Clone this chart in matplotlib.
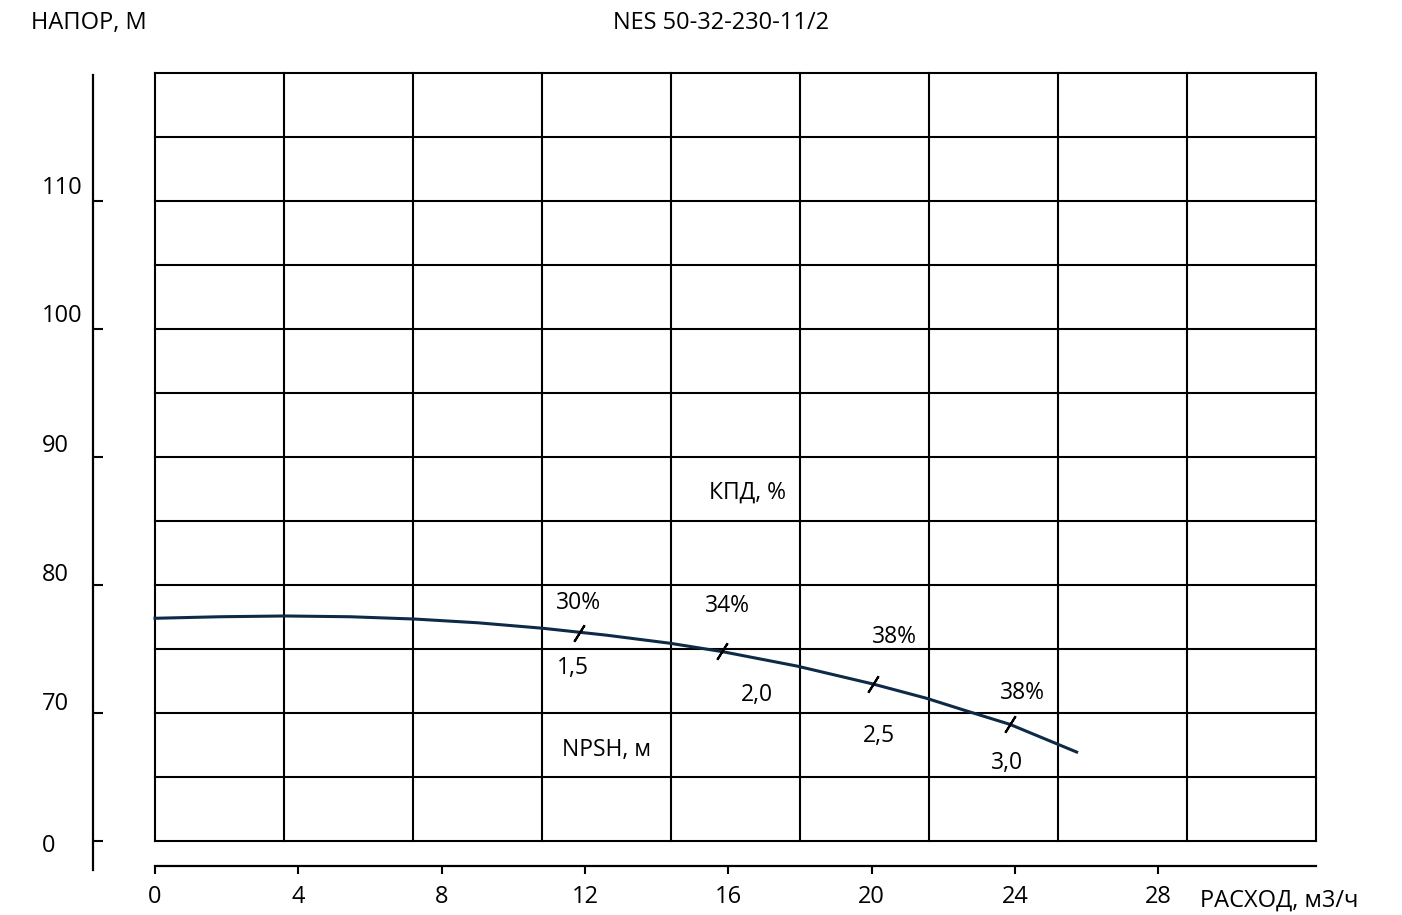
import numpy as np
import matplotlib
matplotlib.use("Agg")
import matplotlib.pyplot as plt

plt.rcParams['font.family'] = ['Open Sans', 'DejaVu Sans']

# ---- data ----
flow = [0.0, 1.81, 3.63, 5.44, 7.25, 9.0, 10.82, 12.6, 14.37, 15.84, 17.91, 20.03, 21.53, 22.65, 23.85, 25.72]
head = [77.40, 77.52, 77.58, 77.52, 77.34, 77.05, 76.62, 76.08, 75.45, 74.79, 73.67, 72.27, 71.15, 70.16, 69.12, 66.95]

mark_flow = [11.83, 15.82, 20.03, 23.85]
mark_head = [76.25, 74.84, 72.27, 69.12]

eff_labels = ['30%', '34%', '38%', '38%']
npsh_labels = ['1,5', '2,0', '2,5', '3,0']

y_tick_values = [60, 70, 80, 90, 100, 110]
y_tick_labels = ['0', '70', '80', '90', '100', '110']
x_tick_values = [0, 4, 8, 12, 16, 20, 24, 28]
x_tick_labels = ['0', '4', '8', '12', '16', '20', '24', '28']

# ---- layout ----
W, H = 1402, 915
fig = plt.figure(figsize=(W / 100, H / 100), dpi=100)
L, R, T, B = 155, 1316, 73, 841
ax = fig.add_axes([L / W, 1 - B / H, (R - L) / W, (B - T) / H])
ax.set_xlim(0, 32.4)
ax.set_ylim(60, 120)

grid_lw = 1.5
for gx in np.arange(0, 32.41, 3.6):
    ax.axvline(gx, color='black', lw=grid_lw, clip_on=False, zorder=1)
for gy in np.arange(60, 120.1, 5):
    ax.axhline(gy, color='black', lw=grid_lw, clip_on=False, zorder=1)

for s in ['top', 'right']:
    ax.spines[s].set_visible(False)
ax.spines['left'].set_position(('outward', 62 * 0.72))
ax.spines['left'].set_bounds(57.73, 119.84)
ax.spines['left'].set_linewidth(1.6)
ax.spines['bottom'].set_position(('outward', 25 * 0.72))
ax.spines['bottom'].set_bounds(0, 32.4)
ax.spines['bottom'].set_linewidth(1.6)

ax.set_yticks(y_tick_values)
ax.tick_params(axis='y', direction='in', length=7.5, width=1.5, labelleft=False)
ax.set_xticks(x_tick_values)
ax.set_xticklabels(x_tick_labels)
ax.tick_params(axis='x', direction='out', length=6, width=1.5, labelsize=17, pad=8)

# y labels, left aligned at x=43 px
y_offsets = [-2, 12, 13, 14, 16, 16]
for v, lab, off in zip(y_tick_values, y_tick_labels, y_offsets):
    ax.annotate(lab, xy=(42 / W, v), xycoords=('figure fraction', 'data'),
                xytext=(0, off * 0.72), textcoords='offset points',
                ha='left', va='center_baseline', fontsize=17, annotation_clip=False)

# curve
ax.plot(flow, head, color='#0e2a47', lw=2.2, zorder=3, clip_on=False)
ax.plot(mark_flow, mark_head, linestyle='none', marker=(2, 2, -32), ms=14,
        mew=1.5, color='black', zorder=4)

# annotations
eff_pos = [(11.83, 78.83), (15.98, 78.6), (20.64, 76.17), (24.21, 71.8)]
npsh_pos = [(11.66, 73.75), (16.79, 71.64), (20.2, 68.44), (23.79, 66.33)]
fs = 16.5
for lab, (px, py) in zip(eff_labels, eff_pos):
    ax.text(px, py, lab, ha='center', va='center_baseline', fontsize=fs)
for lab, (px, py) in zip(npsh_labels, npsh_pos):
    ax.text(px, py, lab, ha='center', va='center_baseline', fontsize=fs)
ax.text(16.54, 87.42, 'КПД, %', ha='center', va='center_baseline', fontsize=fs)
ax.text(12.61, 67.34, 'NPSH, м', ha='center', va='center_baseline', fontsize=fs)

# titles
fig.text(31 / W, 1 - 20 / H, 'НАПОР, М', ha='left', va='center_baseline', fontsize=17)
fig.text(721 / W, 1 - 20 / H, 'NES 50-32-230-11/2', ha='center', va='center_baseline', fontsize=17)
fig.text(1200 / W, 1 - 898 / H, 'РАСХОД, м3/ч', ha='left', va='center_baseline', fontsize=17)

fig.savefig('out.png', dpi=100, facecolor='white')
